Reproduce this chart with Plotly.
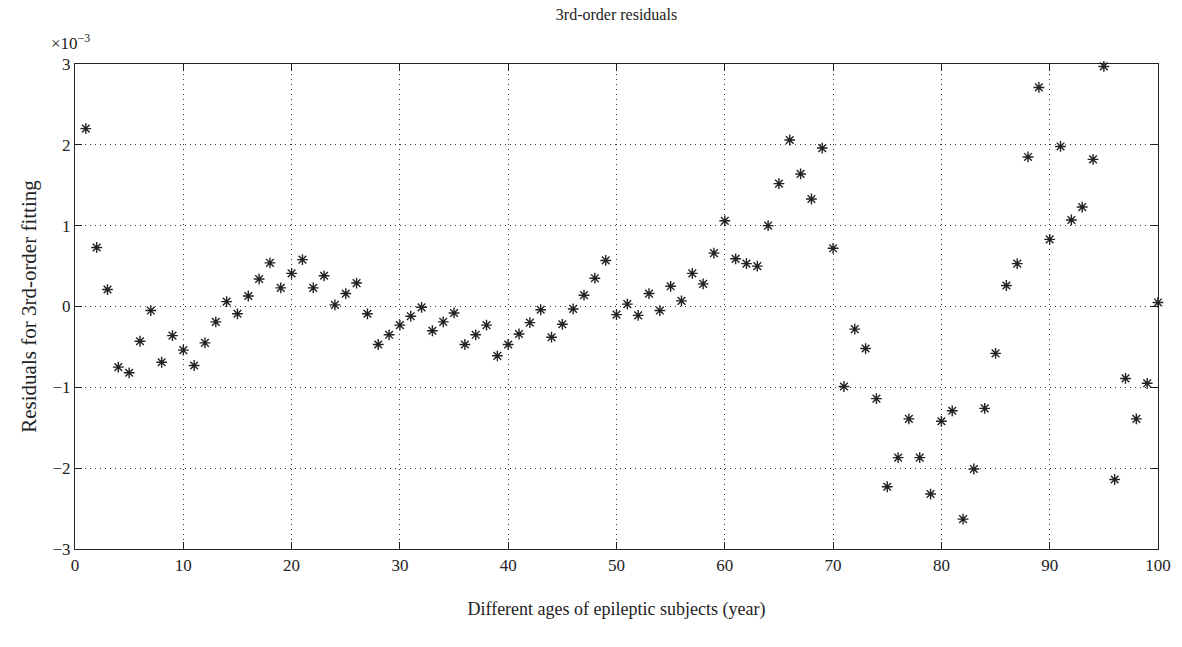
import plotly.graph_objects as go

ages = list(range(1, 101))
# residuals in units of 1e-3
residuals_e3 = [
    2.20, 0.73, 0.21, -0.75, -0.82, -0.43, -0.05, -0.69, -0.36, -0.54,
    -0.73, -0.45, -0.19, 0.06, -0.09, 0.13, 0.34, 0.54, 0.23, 0.41,
    0.58, 0.23, 0.38, 0.02, 0.16, 0.29, -0.09, -0.47, -0.35, -0.23,
    -0.12, -0.01, -0.30, -0.19, -0.08, -0.47, -0.35, -0.23, -0.61, -0.47,
    -0.34, -0.20, -0.04, -0.38, -0.22, -0.03, 0.14, 0.35, 0.57, -0.10,
    0.03, -0.11, 0.16, -0.05, 0.25, 0.07, 0.41, 0.28, 0.66, 1.06,
    0.59, 0.53, 0.50, 1.00, 1.52, 2.06, 1.64, 1.33, 1.96, 0.72,
    -0.99, -0.28, -0.52, -1.14, -2.23, -1.87, -1.39, -1.87, -2.32, -1.42,
    -1.29, -2.63, -2.01, -1.26, -0.58, 0.26, 0.53, 1.85, 2.71, 0.83,
    1.98, 1.07, 1.23, 1.82, 2.97, -2.14, -0.89, -1.39, -0.95, 0.05,
]
x_ticks = list(range(0, 101, 10))
y_ticks = [-3, -2, -1, 0, 1, 2, 3]
y_tick_labels = ["\u22123", "\u22122", "\u22121", "0", "1", "2", "3"]

font_family = "Liberation Serif"
ink = "#222222"

fig = go.Figure()
fig.add_trace(go.Scatter(
    x=ages, y=residuals_e3, mode="markers",
    marker=dict(symbol="asterisk-open", size=9, color=ink,
                line=dict(width=1.4, color=ink)),
    showlegend=False, cliponaxis=False,
))

axis_common = dict(
    showline=True, linecolor="#222", linewidth=1.2, mirror="ticks",
    ticks="inside", ticklen=7, tickcolor="#222", tickwidth=1.2,
    showgrid=True, gridcolor="#333", griddash="1px,4px", gridwidth=1,
    zeroline=False,
    tickfont=dict(family=font_family, size=17, color="#222"),
)

fig.update_layout(
    width=1182, height=647,
    margin=dict(l=75, r=24, t=64, b=98),
    paper_bgcolor="white", plot_bgcolor="white",
    font=dict(family=font_family, color="#222"),
    title=dict(text="3rd-order residuals", x=0.5, xref="paper", xanchor="center",
               y=0.978, yanchor="middle",
               font=dict(family=font_family, size=16, color="#222")),
    xaxis=dict(range=[0, 100], tickvals=x_ticks,
               title=dict(text="Different ages of epileptic subjects (year)",
                          standoff=28, font=dict(family=font_family, size=18)),
               **axis_common),
    yaxis=dict(range=[-3, 3], tickvals=y_ticks, ticktext=y_tick_labels,
               title=dict(text="Residuals for 3rd-order fitting", standoff=10,
                          font=dict(family=font_family, size=21)),
               **axis_common),
)

fig.add_annotation(
    text="\u00d710<sup>\u22123</sup>", xref="paper", yref="paper",
    x=0, y=1, xanchor="left", yanchor="bottom", yshift=9, xshift=-26,
    showarrow=False, font=dict(family=font_family, size=17, color="#222"),
)

fig.write_html("out.html")
